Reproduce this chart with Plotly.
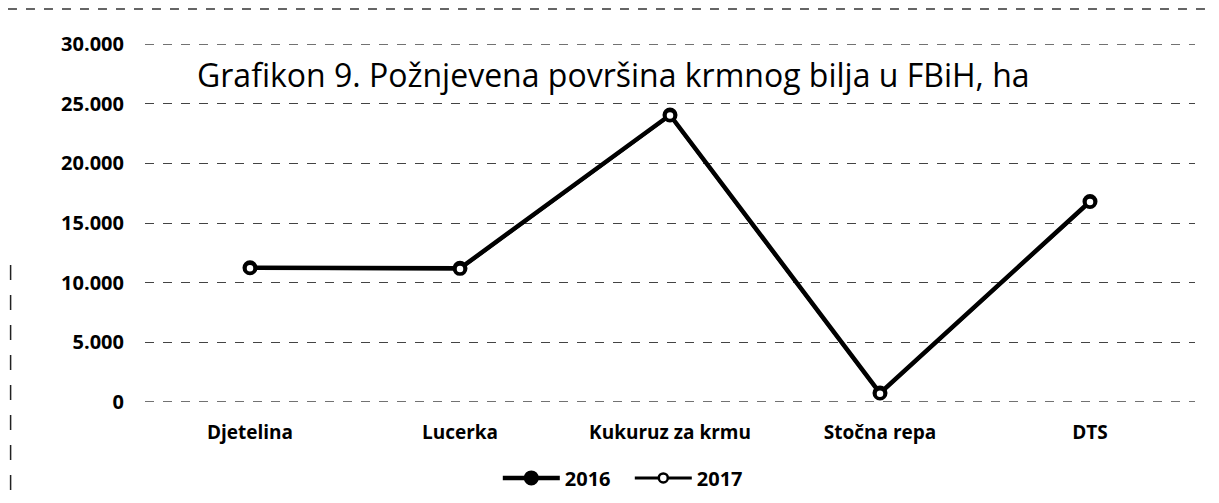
import plotly.graph_objects as go

categories = ["Djetelina", "Lucerka", "Kukuruz za krmu", "Stočna repa", "DTS"]
values_2016 = [11250, 11200, 24050, 750, 16800]
values_2017 = [11200, 11150, 24000, 700, 16750]
y_ticks = [0, 5000, 10000, 15000, 20000, 25000, 30000]
y_tick_labels = ["0", "5.000", "10.000", "15.000", "20.000", "25.000", "30.000"]
title_text = "Grafikon 9. Požnjevena površina krmnog bilja u FBiH, ha"

FONT = "Open Sans"

fig = go.Figure()
fig.add_trace(go.Scatter(
    x=categories, y=values_2016, name="2016", mode="lines+markers",
    line=dict(color="black", width=4.5),
    marker=dict(symbol="circle", size=13, color="black", line=dict(color="black", width=2)),
))
fig.add_trace(go.Scatter(
    x=categories, y=values_2017, name="2017", mode="lines+markers",
    line=dict(color="black", width=3),
    marker=dict(symbol="circle", size=9, color="white", line=dict(color="black", width=2.5)),
))

grid_style = dict(color="#444", width=1.3, dash="dash")
edge_lines = [dict(type="line", xref="paper", yref="y", x0=0, x1=1, y0=v, y1=v,
                   line=grid_style, layer="below") for v in (y_ticks[0], y_ticks[-1])]

# page body has an 8px margin, so the figure is sized to fit the 1219x503 window
fig.update_layout(
    width=1203, height=487,
    margin=dict(l=137, r=16, t=36, b=93, autoexpand=False),
    paper_bgcolor="white", plot_bgcolor="white",
    font=dict(family=FONT, color="black", size=15),
    showlegend=True,
    legend=dict(orientation="h", x=0.336, xanchor="left", y=-0.212, yanchor="middle",
                font=dict(family=FONT, size=20, weight="bold"), itemwidth=57,
                entrywidth=60, entrywidthmode="pixels",
                bgcolor="rgba(0,0,0,0)"),
    annotations=[dict(text=title_text, xref="paper", yref="paper", x=0.0476, y=0.916,
                      xanchor="left", yanchor="middle", showarrow=False,
                      font=dict(family=FONT, size=32, color="black"))],
    shapes=[
        dict(type="line", xref="paper", yref="paper", x0=-0.1305, x1=1.015, y0=1.098, y1=1.098,
             line=dict(color="#333", width=1.5, dash="dash")),
        dict(type="line", xref="paper", yref="paper", x0=-0.128, x1=-0.128, y0=0.383, y1=-0.26,
             line=dict(color="#222", width=1.5, dash="longdash")),
    ] + edge_lines,
)
fig.update_xaxes(
    type="category", range=[-0.5, 4.5], showgrid=False, showline=False, zeroline=False,
    ticks="", ticklabelstandoff=17, automargin=False,
    tickfont=dict(family=FONT, size=19, weight="bold"),
)
fig.update_yaxes(
    range=[0, 30000], tickvals=y_ticks, ticktext=y_tick_labels,
    showgrid=True, gridcolor="#444", griddash="dash", gridwidth=1.3,
    zeroline=False, showline=False, ticks="", ticklabelstandoff=20, automargin=False,
    tickfont=dict(family=FONT, size=20, weight="bold"),
)

fig.write_html("out.html")
